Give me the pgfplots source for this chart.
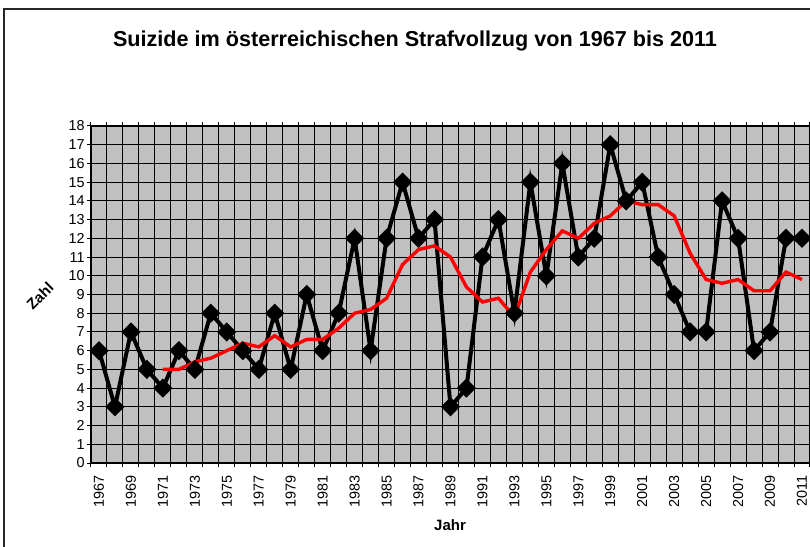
\documentclass[border=0pt]{standalone}
\usepackage{pgfplots}
\pgfplotsset{compat=1.18}
\usepackage{fontspec}
\setmainfont{Liberation Sans}
\definecolor{silver}{RGB}{192,192,192}
\definecolor{xlred}{RGB}{255,0,0}

\begin{document}
\begin{tikzpicture}
    \useasboundingbox (0,0) rectangle (405pt,273.5pt);
    \draw[line width=1pt, black!85] (2pt,-5pt) -- (2pt,269pt) -- (410pt,269pt);
    \begin{axis}[
        at={(45.5pt,42pt)},
        anchor=south west,
        scale only axis,
        width=359.5pt,
        height=168.5pt,
        xmin=1966.5, xmax=2011.5,
        ymin=0, ymax=18,
        axis background/.style={fill=silver},
        axis line style={black, line width=0.6pt},
        tick align=outside,
        major tick length=2pt,
        tick style={black, line width=0.5pt},
        xtick={1966.5,1967.5,...,2011.5},
        xticklabels={},
        xmajorgrids,
        ytick={0,1,...,18},
        ymajorgrids,
        grid style={black, line width=0.5pt},
        extra x ticks={1967,1969,...,2011},
        extra x tick labels={1967,1969,1971,1973,1975,1977,1979,1981,1983,1985,1987,1989,1991,1993,1995,1997,1999,2001,2003,2005,2007,2009,2011},
        extra x tick style={grid=none, major tick length=0pt, tick style={draw=none},
            xticklabel style={rotate=90, anchor=east, xshift=-2.5pt}},
        xticklabel style={font=\fontsize{7.2}{8}\selectfont},
        yticklabel style={font=\fontsize{7.2}{8}\selectfont, inner sep=1pt},
        /pgf/number format/assume math mode=true,
        ]
        % Anzahl Suizide pro Jahr
        \addplot[black, line width=2pt, mark=square*, mark size=2.4pt,
                 mark options={rotate=45, solid, fill=black}]
        coordinates {
            (1967,6) (1968,3) (1969,7) (1970,5) (1971,4) (1972,6) (1973,5)
            (1974,8) (1975,7) (1976,6) (1977,5) (1978,8) (1979,5) (1980,9)
            (1981,6) (1982,8) (1983,12) (1984,6) (1985,12) (1986,15) (1987,12)
            (1988,13) (1989,3) (1990,4) (1991,11) (1992,13) (1993,8) (1994,15)
            (1995,10) (1996,16) (1997,11) (1998,12) (1999,17) (2000,14) (2001,15)
            (2002,11) (2003,9) (2004,7) (2005,7) (2006,14) (2007,12) (2008,6)
            (2009,7) (2010,12) (2011,12)
        };
        % gleitender Durchschnitt
        \addplot[xlred, line width=1.7pt, mark=none] coordinates {
            (1971,5.0) (1972,5.0) (1973,5.4) (1974,5.6) (1975,6.0) (1976,6.4)
            (1977,6.2) (1978,6.8) (1979,6.2) (1980,6.6) (1981,6.6) (1982,7.2)
            (1983,8.0) (1984,8.2) (1985,8.8) (1986,10.6) (1987,11.4) (1988,11.6)
            (1989,11.0) (1990,9.4) (1991,8.6) (1992,8.8) (1993,7.8) (1994,10.2)
            (1995,11.4) (1996,12.4) (1997,12.0) (1998,12.8) (1999,13.2) (2000,14.0)
            (2001,13.8) (2002,13.8) (2003,13.2) (2004,11.2) (2005,9.8) (2006,9.6)
            (2007,9.8) (2008,9.2) (2009,9.2) (2010,10.2) (2011,9.8)
        };
    \end{axis}
    \node[anchor=base, font=\bfseries\fontsize{10.8}{12}\selectfont] at (207.5pt,250pt)
        {Suizide im österreichischen Strafvollzug von 1967 bis 2011};
    \node[anchor=base, font=\bfseries\fontsize{7.5}{9}\selectfont] at (225pt,8.5pt) {Jahr};
    \node[rotate=45, font=\bfseries\fontsize{7.5}{9}\selectfont] at (20pt,125.5pt) {Zahl};
\end{tikzpicture}
\end{document}
